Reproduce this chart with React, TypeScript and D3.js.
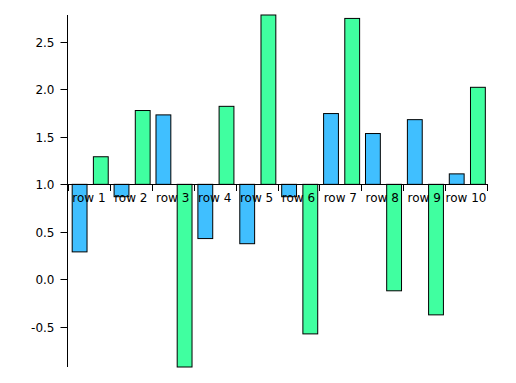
import React from "react";
import * as d3 from "d3";

const categories = ["row 1", "row 2", "row 3", "row 4", "row 5", "row 6", "row 7", "row 8", "row 9", "row 10"];
const seriesA = [0.29, 0.87, 1.73, 0.43, 0.376, 0.87, 1.744, 1.534, 1.68, 1.11];
const seriesB = [1.29, 1.776, -0.92, 1.82, 2.78, -0.572, 2.744, -0.119, -0.372, 2.02];
const seriesKeys = ["a", "b"];
const colors = ["#40bfff", "#40ffa0"];
const baseline = 1.0;

export default function App() {
  const W = 516, H = 383;
  const axisX = 67;
  const x = d3.scaleBand<string>().domain(categories).range([68, 487]).padding(0);
  const all = [...seriesA, ...seriesB];
  const ext = d3.extent(all) as [number, number];
  const y = d3.scaleLinear().domain(ext).range([367, 15]);
  const inner = d3
    .scaleBand<string>()
    .domain(seriesKeys)
    .range([x.bandwidth() * 0.1, x.bandwidth() * 0.96])
    .paddingInner(0.3)
    .paddingOuter(0);
  const yTicks = y.ticks(10);
  const fmt = (v: number) => d3.format(".1f")(v).replace("\u2212", "-");
  const y0 = y(baseline);
  const font = "'DejaVu Sans', Verdana, sans-serif";
  const boundaries = [...categories.map((c) => x(c) as number), x.range()[1]];
  const series = [seriesA, seriesB];

  return (
    <svg width={W} height={H} style={{ position: "absolute", left: 0, top: 0, display: "block" }}>
      <g>
        {categories.map((c, i) =>
          series.map((s, k) => {
            const v = s[i];
            const bx = (x(c) as number) + (inner(seriesKeys[k]) as number);
            const top = Math.min(y(v), y0);
            const h = Math.abs(y(v) - y0);
            return (
              <rect
                key={c + k}
                x={bx}
                y={top}
                width={inner.bandwidth()}
                height={h}
                fill={colors[k]}
                stroke="#000"
                strokeWidth={1}
              />
            );
          })
        )}
      </g>
      {/* y axis */}
      <g fontFamily={font} fontSize={12}>
        <line x1={axisX + 0.5} x2={axisX + 0.5} y1={y.range()[1]} y2={y.range()[0]} stroke="#000" />
        {yTicks.map((t) => (
          <g key={t} transform={`translate(${axisX + 0.5},${Math.round(y(t)) + 0.5})`}>
            <line x1={-7} x2={0} stroke="#000" />
            <text x={-13} dy="0.35em" textAnchor="end" fill="#000">
              {fmt(t)}
            </text>
          </g>
        ))}
      </g>
      {/* x axis */}
      <g fontFamily={font} fontSize={12}>
        <line x1={x.range()[0]} x2={x.range()[1]} y1={Math.round(y0) + 0.5} y2={Math.round(y0) + 0.5} stroke="#000" />
        {boundaries.map((b, i) => (
          <line
            key={i}
            x1={Math.round(b) + 0.5}
            x2={Math.round(b) + 0.5}
            y1={Math.round(y0)}
            y2={Math.round(y0) + 7}
            stroke="#000"
          />
        ))}
        {categories.map((c) => (
          <text
            key={c}
            x={(x(c) as number) + x.bandwidth() / 2}
            y={y0 + 18}
            textAnchor="middle"
            fill="#000"
          >
            {c}
          </text>
        ))}
      </g>
    </svg>
  );
}
